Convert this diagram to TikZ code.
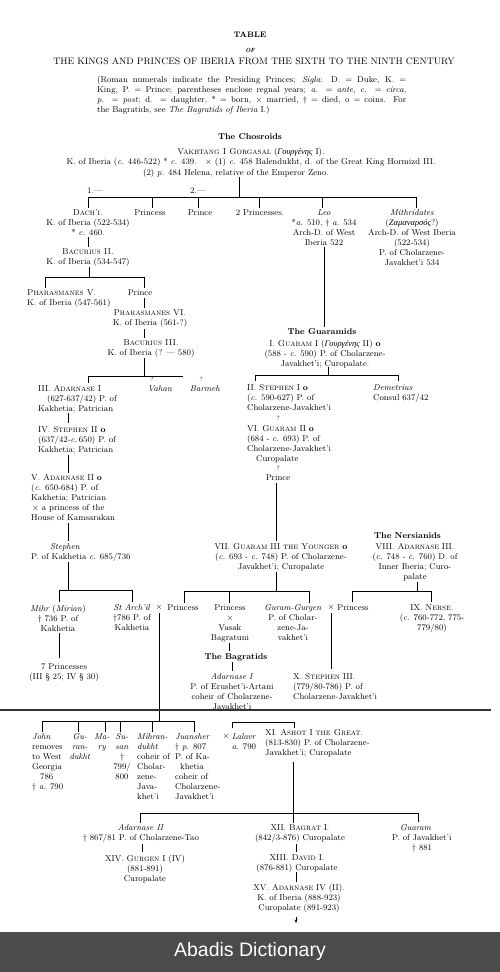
\documentclass[tikz,border=0pt]{standalone}
\usepackage{fontspec}
\newfontfamily\grk{Liberation Serif}
\newfontfamily\banfont{Liberation Sans}
\usetikzlibrary{arrows.meta}
\newcommand\tfs{\fontsize{8.5}{10}\selectfont}
\definecolor{bannergray}{HTML}{4B4B4B}
\tikzset{
  cbox/.style={inner sep=0pt, anchor=north, align=center, font=\tfs},
  lbox/.style={inner sep=0pt, anchor=north west, align=left, font=\tfs},
  hbox/.style={inner sep=0pt, font=\bfseries\tfs},
  ln/.style={line width=0.7pt}
}
\begin{document}
\begin{tikzpicture}[x=1pt,y=-1pt]
\useasboundingbox (0,0) rectangle (500,972);
\fill[white] (0,0) rectangle (500,972);

% ---------- header ----------
\node[inner sep=0pt, font=\bfseries\fontsize{8}{10}\selectfont] (tab) at (250,35) {TABLE};
\node[inner sep=0pt, font=\bfseries\itshape\fontsize{6}{7}\selectfont] (of) at (250,50) {OF};
\node[inner sep=0pt, font=\fontsize{9.4}{11}\selectfont] (ttl) at (254,61) {THE KINGS AND PRINCES OF IBERIA FROM THE SIXTH TO THE NINTH CENTURY};
\node[lbox, text width=309pt, align=justify] (intro) at (97,75.7) {(Roman numerals indicate the Presiding Princes; \textit{Sigla}: D. = Duke, K. =\linebreak King, P. = Prince; parentheses enclose regnal years; \textit{a.} = \textit{ante}, \textit{c.} = \textit{circa},\linebreak \textit{p.} = \textit{post}; d. = daughter, * = born, × married, † = died, o = coins. For\linebreak the Bagratids, see \textit{The Bagratids of Iberia} I.)};

% ---------- Chosroids ----------
\node[hbox] (chos) at (250,137) {The Chosroids};
\node[cbox] (vakh) at (251,147.7) {\textsc{Vakhtang I Gorgasal} ({\grk\itshape Γουργένης} I).\\K. of Iberia (\textit{c.} 446-522) * \textit{c.} 439.\quad × (1) \textit{c.} 458 Balendukht, d. of the Great King Hormizd III.};
\node[cbox] (vakh2) at (236,168.7) {(2) \textit{p.} 484 Helena, relative of the Emperor Zeno.};
\node[inner sep=0pt, font=\tfs] (one) at (95,191) {1.—};
\node[inner sep=0pt, font=\tfs] (two) at (198,191) {2.—};

\node[cbox] (dachi) at (88,209.7) {\textsc{Dach'i.}\\K. of Iberia (522-534)\\* \textit{c.} 460.};
\node[cbox] (prss1) at (150,209.7) {Princess};
\node[cbox] (prnc1) at (200,209.7) {Prince};
\node[cbox] (prss2) at (260,209.7) {2 Princesses.};
\node[cbox] (leo) at (324,209.7) {\textit{Leo}\\*\textit{a.} 510, † \textit{a.} 534\\Arch-D. of West\\Iberia 522};
\node[cbox] (mith) at (412,209.7) {\textit{Mithridates}\\({\grk\itshape Ζαμαναρσός}?)\\Arch-D. of West Iberia\\(522-534)\\P. of Cholarzene-\\Javakhet'i 534};

\node[cbox] (bac2) at (88,248.7) {\textsc{Bacurius II.}\\K. of Iberia (534-547)};
\node[lbox] (phar5) at (27,289.7) {\textsc{Pharasmanes V.}\\K. of Iberia (547-561)};
\node[cbox] (prnc2) at (140,289.7) {Prince};
\node[cbox] (phar6) at (150,309.7) {\textsc{Pharasmanes VI.}\\K. of Iberia (561-?)};
\node[cbox] (bac3) at (151,339.7) {\textsc{Bacurius III.}\\K. of Iberia (? — 580)};

\node[inner sep=0pt, font=\fontsize{6}{7}\selectfont] (qv) at (152,379) {?};
\node[inner sep=0pt, font=\fontsize{6}{7}\selectfont] (qb) at (201,379) {?};
\node[lbox] (adar1) at (38,385.7) {III. \textsc{Adarnase} I\\\hspace*{9pt}(627-637/42) P. of\\Kakhetia; Patrician};
\node[cbox] (vahan) at (160,385.7) {\textit{Vahan}};
\node[cbox] (barmeh) at (205,385.7) {\textit{Barmeh}};
\node[lbox] (steph2) at (38,426.7) {IV. \textsc{Stephen} II \textbf{o}\\(637/42-\textit{c.}\,650) P. of\\Kakhetia; Patrician};
\node[lbox] (adar2) at (31,474.7) {V. \textsc{Adarnase} II \textbf{o}\\(\textit{c.} 650-684) P. of\\Kakhetia; Patrician\\\hspace*{1pt}× a princess of the\\House of Kamsarakan};
\node[lbox] (steph) at (31,543.7) {\hspace*{19pt}\textit{Stephen}\\P. of Kakhetia \textit{c.} 685/736};
\node[cbox] (mihr) at (58,604.7) {\textit{Mihr} (\textit{Mirian})\\† 736 P. of\\Kakhetia};
\node[cbox] (arch) at (132,604.7) {\textit{St Arch'il}\\†786 P. of\\Kakhetia};
\node[cbox] (xA) at (159,604.7) {×};
\node[cbox] (prss3) at (183,604.7) {Princess};
\node[cbox] (pr7) at (64,663.7) {7 Princesses\\(III § 25; IV § 30)};

% ---------- Guaramids ----------
\node[hbox] (gurds) at (322,332) {The Guaramids};
\node[cbox] (guar1) at (325,339.7) {I. \textsc{Guaram} I ({\grk\itshape Γουργένης} II) \textbf{o}\\(588 - \textit{c.} 590) P. of Cholarzene-\\Javakhet'i; Curopalate.};
\node[lbox] (steph1) at (247,384.7) {II. \textsc{Stephen} I \textbf{o}\\(\textit{c.} 590-627) P. of\\Cholarzene-Javakhet'i};
\node[inner sep=0pt, font=\fontsize{6}{7}\selectfont] (q1) at (278,418) {?};
\node[lbox] (guar2) at (247,425.7) {VI. \textsc{Guaram} II \textbf{o}\\(684 - \textit{c.} 693) P. of\\Cholarzene-Javakhet'i\\\hspace*{9pt}Curopalate};
\node[inner sep=0pt, font=\fontsize{6}{7}\selectfont] (q2) at (278,468) {?};
\node[cbox] (prnc3) at (278,474.7) {Prince};
\node[lbox] (demet) at (373,384.7) {\textit{Demetrius}\\Consul 637/42};
\node[hbox, anchor=west] (nerds) at (374,536) {The Nersianids};
\node[cbox] (guar3) at (281,543.7) {VII. \textsc{Guaram} III \textsc{the Younger} \textbf{o}\\(\textit{c.} 693 - \textit{c.} 748) P. of Cholarzene-\\Javakhet'i; Curopalate};
\node[cbox] (adar3) at (415,543.7) {VIII. \textsc{Adarnase} III.\\(\textit{c.} 748 - \textit{c.} 760) D. of\\Inner Iberia; Curo-\\palate};
\node[cbox] (prss5) at (230,604.7) {Princess\\×\\Vasak\\Bagratuni};
\node[hbox] (bagds) at (236,657) {The Bagratids};
\node[cbox] (adar1b) at (232,673.7) {\textit{Adarnase I}\\P. of Erushet'i-Artani\\coheir of Cholarzene-\\Javakhet'i};
\node[cbox] (gurg) at (293,604.7) {\textit{Guram-Gurgen}\\P. of Cholar-\\zene-Ja-\\vakhet'i};
\node[cbox] (xB) at (331,604.7) {×};
\node[cbox] (prss6) at (353,604.7) {Princess};
\node[cbox] (nerse) at (432,604.7) {IX. \textsc{Nerse.}\\(\textit{c.} 760-772, 775-\\779/80)};
\node[lbox] (steph3) at (293,673.7) {X. \textsc{Stephen} III.\\(779/80-786) P. of\\Cholarzene-Javakhet'i};

% ---------- lower part ----------
\node[lbox] (john) at (32,733.7) {\textit{John}\\removes\\to West\\Georgia\\\hspace*{8pt}786\\† \textit{a.} 790};
\node[cbox] (guran) at (80,733.7) {\textit{Gu-}\\\textit{ran-}\\\textit{dukht}};
\node[cbox] (mary) at (102,733.7) {\textit{Ma-}\\\textit{ry}};
\node[cbox] (susan) at (122,733.7) {\textit{Su-}\\\textit{san}\\†\\799/\\800};
\node[lbox] (mihrd) at (137,733.7) {\textit{Mihran-}\\\textit{dukht}\\coheir of\\Cholar-\\zene-\\Java-\\khet'i};
\node[lbox] (juan) at (175,733.7) {\textit{Juansher}\\† \textit{p.} 807\\P. of Ka-\\\hspace*{5pt}khetia\\coheir of\\Cholarzene-\\Javakhet'i};
\node[cbox] (xC) at (226,733.7) {×};
\node[cbox] (lalavr) at (244,733.7) {\textit{Lalavr}\\\textit{a.} 790};
\node[lbox] (ashot) at (265,729.7) {XI. \textsc{Ashot} I \textsc{the Great.}\\(813-830) P. of Cholarzene-\\Javakhet'i; Curopalate};
\node[cbox] (adar2b) at (141,824.7) {\textit{Adarnase II}\\† 867/81 P. of Cholarzene-Tao};
\node[cbox] (gurg1) at (145,854.7) {XIV. \textsc{Gurgen} I (IV)\\(881-891)\\Curopalate};
\node[cbox] (bagrat) at (300,824.7) {XII. \textsc{Bagrat} I.\\(842/3-876) Curopalate};
\node[cbox] (david) at (297,854.7) {XIII. \textsc{David} I.\\(876-881) Curopalate};
\node[cbox] (adar4) at (299,883.7) {XV. \textsc{Adarnase} IV (II).\\K. of Iberia (888-923)\\Curopalate (891-923)};
\node[lbox] (guaramj) at (392,824.7) {\hspace*{8pt}\textit{Guaram}\\P. of Javakhet'i\\\hspace*{20pt}† 881};
\coordinate (arrowend) at (296,923);

% ---------- connectors ----------
\begin{scope}[ln]
\draw (239,177) -- (239,197);
\draw (88,197) -- (416,197);
\foreach \xx in {88,152,198,259,322,416} \draw (\xx,197) -- (\xx,207.5);
\draw (88,237) -- (88,247);
\draw (89,267) -- (89,277);
\draw (45,277) -- (144,277);
\draw (45,277) -- (45,288);
\draw (144,277) -- (144,288);
\draw (144,298) -- (144,308);
\draw (144,329) -- (144,338);
\draw (144,358) -- (144,376);
\draw (88,376) -- (183,376);
\draw (88,376) -- (88,383);
\draw (68,413) -- (68,423);
\draw (68,455) -- (68,473);
\draw (68,523) -- (68,541);
\draw (68,562) -- (68,590);
\draw (59,590) -- (132,590);
\draw (59,590) -- (59,602);
\draw (132,590) -- (132,602);
\draw (59,633) -- (59,658);
\draw (159,613) -- (159,721);
\draw (42,721) -- (194,721);
\foreach \xx in {42,78,105,120,152,194} \draw (\xx,721) -- (\xx,732);
\draw (324,247) -- (324,327);
\draw (328,367) -- (328,375);
\draw (255,375) -- (398,375);
\draw (255,375) -- (255,381);
\draw (398,375) -- (398,381);
\draw (276,483) -- (276,541);
\draw (276,572) -- (276,591);
\draw (184,591) -- (309,591);
\foreach \xx in {184,229,309} \draw (\xx,591) -- (\xx,603);
\draw (229,643) -- (229,651);
\draw (232,662) -- (232,671);
\draw (331,613) -- (331,669);
\draw (417,582) -- (417,591);
\draw (352,591) -- (431,591);
\draw (352,591) -- (352,602);
\draw (431,591) -- (431,602);
\draw (232,728) -- (232,722) -- (294,722) -- (294,728);
\draw (293,762) -- (293,823);
\draw (140,813) -- (418,813);
\draw (140,813) -- (140,823);
\draw (418,813) -- (418,822);
\draw (142,844) -- (142,852);
\draw (296,844) -- (296,852);
\draw (296,872) -- (296,882);
\draw[-{Stealth[length=3.5pt,width=3pt]}] (adar4.south -| arrowend) ++(0,4) -- (arrowend);
\end{scope}
\draw[line width=1.3pt, black!80] (0,710) -- (491,710);

% ---------- banner ----------
\fill[bannergray] (0,932) rectangle (500,972);
\node[inner sep=0pt, text=white, font=\banfont\fontsize{19.5}{22}\selectfont] (ban) at (250,951) {Abadis Dictionary};
\end{tikzpicture}
\end{document}
